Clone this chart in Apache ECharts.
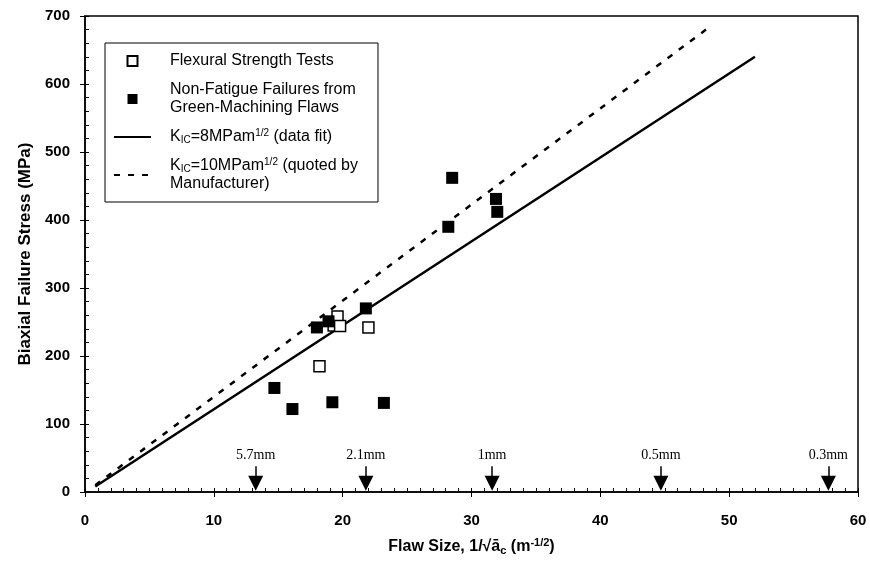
<!DOCTYPE html>
<html>
<head>
<meta charset="utf-8">
<title>Biaxial failure stress vs flaw size</title>
<script src="https://cdn.jsdelivr.net/npm/echarts@6/dist/echarts.min.js"></script>
<style>
    html, body { margin: 0; padding: 0; background: #fff; }
    #chart { width: 870px; height: 561px; }
</style>
</head>
<body>
<div id="chart"></div>
<script type="text/javascript">
    // 数据
    var flexX = [18.2, 19.3, 19.6, 19.8, 22.0];
    var flexY = [185, 245, 258, 244, 242];

    var greenX = [14.7, 16.1, 19.2, 23.2, 18.0, 18.9, 21.8, 28.5, 28.2, 31.9, 32.0];
    var greenY = [153, 122, 132, 131, 242, 251, 270, 462, 390, 431, 412];

    // 拟合线 (两端点)
    var fit8X = [0.8, 52.0];
    var fit8Y = [8, 640];
    var fit10X = [0.8, 48.2];
    var fit10Y = [10, 680];

    // 缺陷尺寸箭头
    var arrowX = [13.25, 21.8, 31.6, 44.7, 57.7];
    var arrowLabels = ['5.7mm', '2.1mm', '1mm', '0.5mm', '0.3mm'];
    var arrowTop = 38;
    var arrowEnd = 13;

    var xTicks = [0, 10, 20, 30, 40, 50, 60];
    var yTicks = [0, 100, 200, 300, 400, 500, 600, 700];

    function pairs(xs, ys) {
        return xs.map(function (x, i) { return [x, ys[i]]; });
    }

    var SANS = '"Liberation Sans", Arial, sans-serif';
    var SERIF = '"Liberation Serif", "Times New Roman", serif';

    var nameFlex = 'Flexural Strength Tests';
    var nameGreen = 'Non-Fatigue Failures from Green-Machining Flaws';
    var nameK8 = 'KIC8';
    var nameK10 = 'KIC10';

    var legendText = {};
    legendText[nameFlex] = 'Flexural Strength Tests';
    legendText[nameGreen] = 'Non-Fatigue Failures from\nGreen-Machining Flaws';
    legendText[nameK8] = 'K{sub|IC}=8MPam{sup|1/2} (data fit)';
    legendText[nameK10] = 'K{sub|IC}=10MPam{sup|1/2} (quoted by\nManufacturer)';

    var myChart = echarts.init(document.getElementById('chart'));

    var option = {
        animation: false,
        backgroundColor: '#fff',
        grid: {
            left: 85, right: 12, top: 16, bottom: 68,
            show: true, borderColor: '#000', borderWidth: 1.5,
            backgroundColor: 'transparent'
        },
        legend: {
            orient: 'vertical',
            left: 105,
            top: 43,
            padding: [9, 20, 9, 8],
            borderColor: '#000',
            borderWidth: 1,
            backgroundColor: '#fff',
            itemWidth: 37,
            itemHeight: 10,
            itemGap: 11,
            data: [
                {name: nameFlex, icon: 'path://M0,0h10v10h-10z'},
                {name: nameGreen, icon: 'path://M0,0h10v10h-10z'},
                {name: nameK8, itemStyle: {opacity: 0}},
                {name: nameK10, itemStyle: {opacity: 0}}
            ],
            formatter: function (name) { return legendText[name]; },
            textStyle: {
                fontFamily: SANS,
                fontSize: 16,
                color: '#000',
                lineHeight: 18,
                padding: [0, 0, 0, 14],
                rich: {
                    sub: {fontFamily: SANS, fontSize: 10, color: '#000', padding: [7, 0, 0, 0]},
                    sup: {fontFamily: SANS, fontSize: 10, color: '#000', padding: [0, 0, 7, 0]}
                }
            }
        },
        xAxis: [
            {
                type: 'value',
                min: 0, max: 60, interval: 10,
                name: 'Flaw Size, 1/√ā{sub|c} (m{sup|-1/2})',
                nameLocation: 'middle',
                nameGap: 45,
                nameTextStyle: {
                    fontFamily: SANS, fontSize: 16, fontWeight: 'bold', color: '#000',
                    rich: {
                        sub: {fontFamily: SANS, fontSize: 11, fontWeight: 'bold', color: '#000', padding: [8, 0, 0, 0]},
                        sup: {fontFamily: SANS, fontSize: 11, fontWeight: 'bold', color: '#000', padding: [0, 0, 8, 0]}
                    }
                },
                axisLine: {lineStyle: {color: '#000', width: 1.5}},
                axisTick: {show: true, inside: false, length: 5, lineStyle: {color: '#000'}},
                axisLabel: {
                    margin: 21, color: '#000', fontFamily: SANS, fontSize: 15, fontWeight: 'bold',
                    formatter: function (v) { return xTicks.indexOf(v) >= 0 ? String(v) : ''; }
                },
                splitLine: {show: false}
            },
            {
                // 内侧小刻度
                type: 'value',
                position: 'bottom',
                min: 0, max: 60, interval: 1,
                axisLine: {show: false},
                axisTick: {show: true, inside: true, length: 4, lineStyle: {color: '#000'}},
                axisLabel: {show: false},
                splitLine: {show: false}
            }
        ],
        yAxis: [
            {
                type: 'value',
                min: 0, max: 700, interval: 100,
                name: 'Biaxial Failure Stress (MPa)',
                nameLocation: 'middle',
                nameGap: 50,
                nameTextStyle: {fontFamily: SANS, fontSize: 17, fontWeight: 'bold', color: '#000'},
                axisLine: {show: true, lineStyle: {color: '#000', width: 1.5}},
                axisTick: {show: true, inside: false, length: 5, lineStyle: {color: '#000'}},
                axisLabel: {
                    margin: 15, color: '#000', fontFamily: SANS, fontSize: 15, fontWeight: 'bold',
                    formatter: function (v) { return yTicks.indexOf(v) >= 0 ? String(v) : ''; }
                },
                splitLine: {show: false}
            },
            {
                type: 'value',
                position: 'left',
                min: 0, max: 700, interval: 20,
                axisLine: {show: false},
                axisTick: {show: true, inside: true, length: 4, lineStyle: {color: '#000'}},
                axisLabel: {show: false},
                splitLine: {show: false}
            }
        ],
        series: [
            {
                name: nameK8,
                type: 'line',
                data: pairs(fit8X, fit8Y),
                showSymbol: false,
                symbol: 'none',
                lineStyle: {color: '#000', width: 2.5, type: 'solid'},
                itemStyle: {color: '#000'},
                z: 3
            },
            {
                name: nameK10,
                type: 'line',
                data: pairs(fit10X, fit10Y),
                showSymbol: false,
                symbol: 'none',
                lineStyle: {color: '#000', width: 2.5, type: [6, 8]},
                itemStyle: {color: '#000'},
                z: 3
            },
            {
                name: nameFlex,
                type: 'scatter',
                data: pairs(flexX, flexY),
                symbol: 'rect',
                symbolSize: 11,
                itemStyle: {color: '#fff', borderColor: '#000', borderWidth: 1.5, opacity: 1},
                z: 5
            },
            {
                name: nameGreen,
                type: 'scatter',
                data: pairs(greenX, greenY),
                symbol: 'rect',
                symbolSize: 12,
                itemStyle: {color: '#000', opacity: 1},
                z: 6
            },
            {
                // 缺陷尺寸标记
                name: 'arrows',
                type: 'line',
                data: [],
                silent: true,
                markLine: {
                    silent: true,
                    symbol: ['none', 'triangle'],
                    symbolSize: 15,
                    lineStyle: {color: '#000', width: 1.5, type: 'solid'},
                    label: {
                        show: true,
                        position: 'start',
                        distance: 4,
                        formatter: '{b}',
                        fontFamily: SERIF,
                        fontSize: 14,
                        color: '#000'
                    },
                    data: arrowX.map(function (x, i) {
                        return [{name: arrowLabels[i], coord: [x, arrowTop]}, {coord: [x, arrowEnd]}];
                    })
                },
                z: 4
            }
        ]
    };
    myChart.setOption(option);
</script>
</body>
</html>
